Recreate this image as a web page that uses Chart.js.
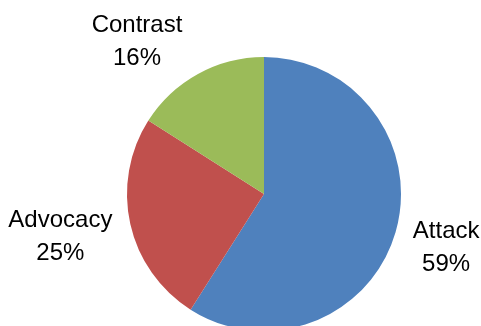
<!DOCTYPE html>
<html>
<head>
<meta charset="utf-8">
<script src="https://cdn.jsdelivr.net/npm/chart.js@4/dist/chart.umd.min.js"></script>
<style>
  html, body { margin: 0; padding: 0; background: #ffffff; overflow: hidden; }
  #wrap { position: relative; width: 481px; height: 388px; }
</style>
</head>
<body>
<div id="wrap"><canvas id="c" width="481" height="388"></canvas></div>
<script>
// Share of messages by tone
const categories = ['Attack', 'Advocacy', 'Contrast'];
const shares = [59, 25, 16];
const sliceColors = ['#4F81BD', '#C0504D', '#9BBB59'];

const FONT = '24px "Liberation Sans", Arial, sans-serif';
const LINE_GAP = 33;

// Two-line "name / percent" labels placed just outside each slice
const outsideLabels = {
  id: 'outsideLabels',
  afterDatasetsDraw(chart) {
    const ctx = chart.ctx;
    const meta = chart.getDatasetMeta(0);
    const total = shares.reduce((a, b) => a + b, 0);
    ctx.save();
    ctx.font = FONT;
    ctx.fillStyle = '#000000';
    ctx.textAlign = 'center';
    ctx.textBaseline = 'middle';
    meta.data.forEach((arc, i) => {
      const p = arc.getProps(['x', 'y', 'startAngle', 'endAngle', 'outerRadius'], true);
      const mid = (p.startAngle + p.endAngle) / 2;
      const dx = Math.cos(mid), dy = Math.sin(mid);
      const r = p.outerRadius + 16;
      const ax = p.x + dx * r, ay = p.y + dy * r;
      const line1 = categories[i];
      const line2 = Math.round(shares[i] / total * 100) + '%';
      const w = Math.max(ctx.measureText(line1).width, ctx.measureText(line2).width);
      const h = LINE_GAP + 18;
      // push the box further sideways the more vertical the slice direction is
      const cx = ax + Math.sign(dx) * (w / 2) * (1 + 0.2 * Math.abs(dy));
      const cy = ay + dy * h / 2 + 4;
      ctx.fillText(line1, cx, cy - LINE_GAP / 2);
      ctx.fillText(line2, cx, cy + LINE_GAP / 2);
    });
    ctx.restore();
  }
};

new Chart(document.getElementById('c'), {
  type: 'pie',
  data: {
    labels: categories,
    datasets: [{
      data: shares,
      backgroundColor: sliceColors,
      borderWidth: 0
    }]
  },
  options: {
    responsive: false,
    animation: false,
    radius: 137,
    layout: { padding: { left: 47, right: 0, top: 0, bottom: 0 } },
    plugins: {
      legend: { display: false },
      tooltip: { enabled: false }
    }
  },
  plugins: [outsideLabels]
});
</script>
</body>
</html>
